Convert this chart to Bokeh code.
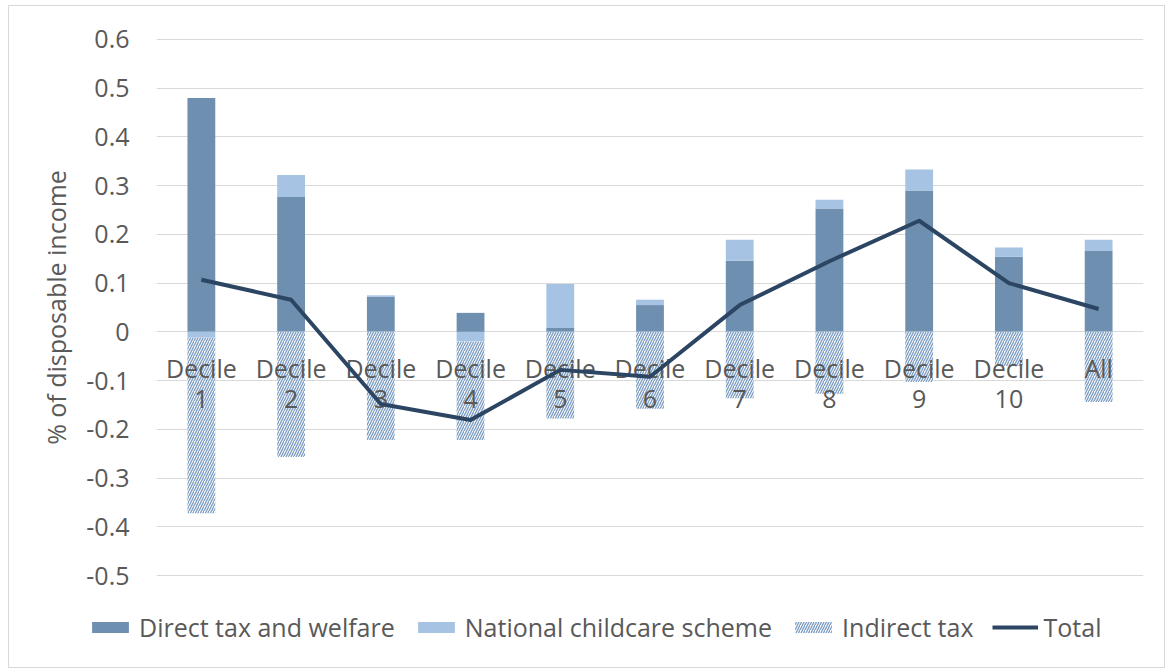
import numpy as np
from bokeh.plotting import figure
from bokeh.layouts import column
from bokeh.models import FixedTicker, NumeralTickFormatter, Legend, LegendItem
from bokeh.core.properties import value
from bokeh.embed import file_html
from bokeh.resources import INLINE

categories = ["Decile 1", "Decile 2", "Decile 3", "Decile 4", "Decile 5", "Decile 6",
              "Decile 7", "Decile 8", "Decile 9", "Decile 10", "All"]
direct = [0.48, 0.277, 0.072, 0.039, 0.008, 0.055, 0.146, 0.253, 0.29, 0.154, 0.166]
childcare = [-0.012, 0.045, 0.003, -0.02, 0.09, 0.011, 0.043, 0.018, 0.043, 0.019, 0.023]
indirect = [-0.36, -0.257, -0.222, -0.202, -0.178, -0.158, -0.136, -0.127, -0.103, -0.07, -0.144]
total = [0.107, 0.066, -0.148, -0.181, -0.078, -0.092, 0.055, 0.145, 0.228, 0.1, 0.047]
y_ticks = [-0.5, -0.4, -0.3, -0.2, -0.1, 0.0, 0.1, 0.2, 0.3, 0.4, 0.5, 0.6]
series_names = ["Direct tax and welfare", "National childcare scheme", "Indirect tax", "Total"]

FONT = "Open Sans"
FS = "25px"
TXT = "#595959"
C_DIRECT = "#6f8fb1"
C_CHILD = "#a6c3e4"
C_HATCH = "#7f9fc4"
C_TOTAL = "#2b4563"

# stack positives upward and negatives downward, like a stacked column chart
pos = np.zeros(len(categories))
neg = np.zeros(len(categories))
stacks = {}
for name, vals in [("direct", direct), ("childcare", childcare), ("indirect", indirect)]:
    v = np.array(vals)
    bottom = np.where(v >= 0, pos, neg)
    top = bottom + v
    pos = np.where(v >= 0, top, pos)
    neg = np.where(v < 0, top, neg)
    stacks[name] = (bottom, top)

p = figure(x_range=categories, y_range=(-0.502, 0.602), width=1155, height=600,
           output_backend="svg", toolbar_location=None,
           min_border_left=147, min_border_right=21, min_border_top=32, min_border_bottom=30)
p.frame_align = False
p.outline_line_color = None
p.xgrid.grid_line_color = None
p.ygrid.grid_line_color = "#d9d9d9"
p.ygrid.grid_line_width = 1
p.xaxis.visible = False

ya = p.yaxis[0]
ya.ticker = FixedTicker(ticks=y_ticks)
ya.formatter = NumeralTickFormatter(format="0.[0]")
ya.axis_line_color = None
ya.major_tick_line_color = None
ya.minor_tick_line_color = None
ya.major_tick_out = 0
ya.major_label_standoff = 27
ya.major_label_text_font = FONT
ya.major_label_text_font_size = FS
ya.major_label_text_color = TXT
ya.axis_label = "% of disposable income"
ya.axis_label_text_font = FONT
ya.axis_label_text_font_size = FS
ya.axis_label_text_font_style = "normal"
ya.axis_label_text_color = TXT
ya.axis_label_standoff = 10

W = 0.31
hatch_kw = dict(hatch_pattern="/", hatch_color=C_HATCH, hatch_scale=5, hatch_weight=1.4)
p.vbar(x=categories, bottom=stacks["direct"][0], top=stacks["direct"][1], width=W,
       fill_color=C_DIRECT, line_color=None)
p.vbar(x=categories, bottom=stacks["childcare"][0], top=stacks["childcare"][1], width=W,
       fill_color=C_CHILD, line_color=None)
p.vbar(x=categories, bottom=stacks["indirect"][0], top=stacks["indirect"][1], width=W,
       fill_color="white", line_color=None, **hatch_kw)

line1 = [c.split(" ")[0] for c in categories]
line2 = [c.split(" ")[1] if " " in c else "" for c in categories]
p.text(x=categories, y=[-0.075] * len(categories), text=line1, text_font=value(FONT),
       text_font_size=FS, text_color=TXT, text_align="center", text_baseline="middle")
p.text(x=categories, y=[-0.137] * len(categories), text=line2, text_font=value(FONT),
       text_font_size=FS, text_color=TXT, text_align="center", text_baseline="middle")

p.line(x=categories, y=total, line_width=4, line_color=C_TOTAL, line_join="round")

# legend strip below the plot (separate canvas so the legend is not clipped)
q = figure(width=1155, height=61, x_range=(0, 1), y_range=(0, 1),
           output_backend="svg", toolbar_location=None,
           x_axis_location=None, y_axis_location=None, min_border=0)
q.frame_align = False
q.outline_line_color = None
q.grid.visible = False
# swatch renderers kept outside the visible range; only their legend entries show
d1 = q.vbar(x=[5], bottom=[5], top=[6], width=0.1, fill_color=C_DIRECT, line_color=None)
d2 = q.vbar(x=[5], bottom=[5], top=[6], width=0.1, fill_color=C_CHILD, line_color=None)
d3 = q.vbar(x=[5], bottom=[5], top=[6], width=0.1, fill_color="white", line_color=None, **hatch_kw)
d4 = q.line(x=[5, 6], y=[5, 6], line_width=4, line_color=C_TOTAL)

legend = Legend(items=[LegendItem(label=n, renderers=[r]) for n, r in zip(series_names, [d1, d2, d3, d4])],
                orientation="horizontal", location=(78, 23))
legend.padding = 0
legend.margin = 0
legend.spacing = 18
legend.label_standoff = 6
legend.glyph_width = 46
legend.glyph_height = 14
legend.label_text_font = FONT
legend.label_text_font_size = FS
legend.label_text_color = TXT
legend.border_line_color = None
legend.background_fill_alpha = 0
q.add_layout(legend, "center")

layout = column(p, q, spacing=0)
layout.margin = (5, 0, 0, 8)
layout.styles = {"border": "1px solid #d9d9d9"}

open("out.html", "w").write(file_html(layout, INLINE))
